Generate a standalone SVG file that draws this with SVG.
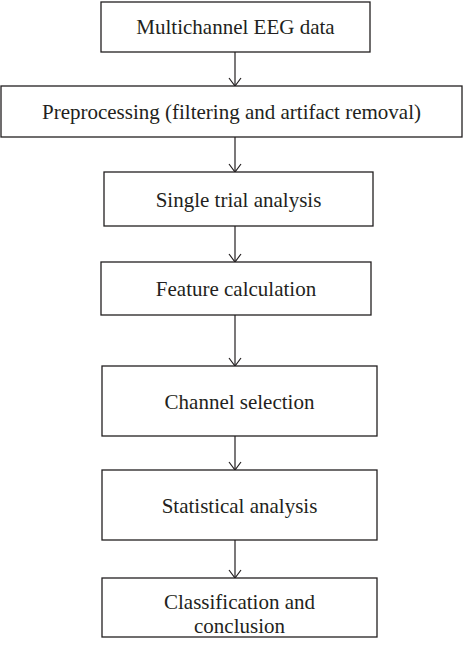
<svg xmlns="http://www.w3.org/2000/svg" width="463" height="650" viewBox="0 0 463 650">
<defs>
<style>
.box{fill:#fff;stroke:#231f20;stroke-width:1.3}
.lbl{font-family:"Liberation Serif","Times New Roman",serif;font-size:21px;fill:#231f20;text-anchor:middle}
.con{stroke:#231f20;stroke-width:1.2;fill:none}
</style>
<marker id="arr" markerWidth="12" markerHeight="14" refX="9" refY="7" orient="auto" markerUnits="userSpaceOnUse">
<path d="M1,1 L9,7 L1,13" fill="none" stroke="#231f20" stroke-width="1.2"/>
</marker>
</defs>
<rect width="463" height="650" fill="#fff"/>
<g id="connectors">
<line class="con" x1="235" y1="52" x2="235" y2="86" marker-end="url(#arr)"/>
<line class="con" x1="235" y1="137" x2="235" y2="172" marker-end="url(#arr)"/>
<line class="con" x1="235" y1="226" x2="235" y2="262" marker-end="url(#arr)"/>
<line class="con" x1="235" y1="315" x2="235" y2="366" marker-end="url(#arr)"/>
<line class="con" x1="235" y1="436" x2="235" y2="470" marker-end="url(#arr)"/>
<line class="con" x1="235" y1="540" x2="235" y2="578" marker-end="url(#arr)"/>
</g>
<g id="n1"><rect class="box" x="101" y="2" width="269" height="50"/><text class="lbl" x="235.5" y="34">Multichannel EEG data</text></g>
<g id="n2"><rect class="box" x="1" y="86" width="461" height="51"/><text class="lbl" x="231.5" y="119">Preprocessing (filtering and artifact removal)</text></g>
<g id="n3"><rect class="box" x="104" y="172" width="269" height="54"/><text class="lbl" x="238.5" y="207">Single trial analysis</text></g>
<g id="n4"><rect class="box" x="101" y="262" width="270" height="53"/><text class="lbl" x="236" y="296">Feature calculation</text></g>
<g id="n5"><rect class="box" x="102" y="366" width="275" height="70"/><text class="lbl" x="239.5" y="409">Channel selection</text></g>
<g id="n6"><rect class="box" x="102" y="470" width="275" height="70"/><text class="lbl" x="239.5" y="513">Statistical analysis</text></g>
<g id="n7"><rect class="box" x="102" y="578" width="275" height="59"/><text class="lbl" x="239.5" y="609">Classification and</text><text class="lbl" x="239.5" y="633">conclusion</text></g>
</svg>
